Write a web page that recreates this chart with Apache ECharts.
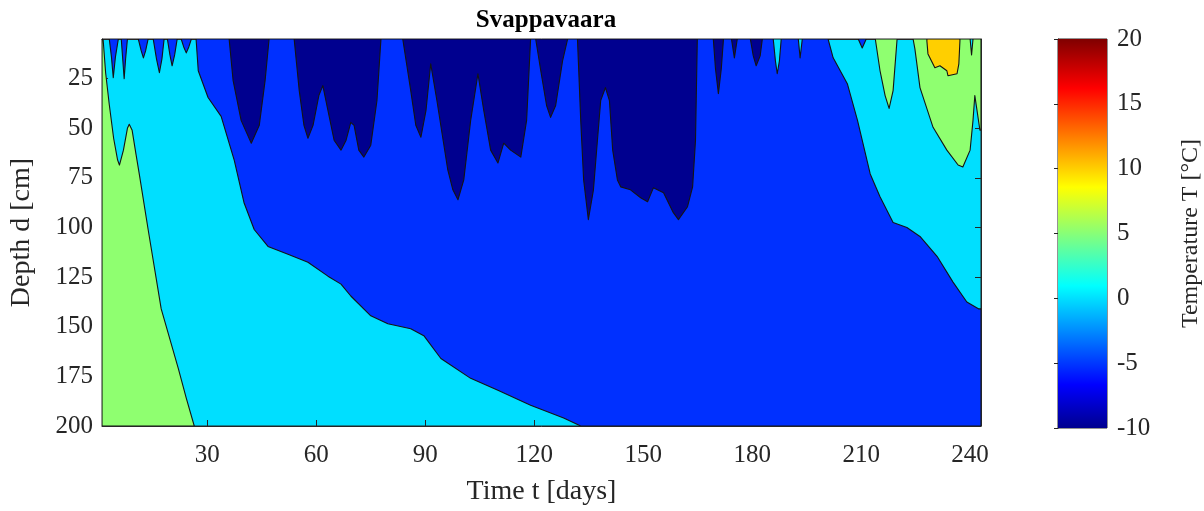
<!doctype html>
<html lang="en">
<head>
<meta charset="utf-8"/>
<title>Svappavaara</title>
<script src="https://cdn.jsdelivr.net/npm/echarts@6.0.0/dist/echarts.min.js"></script>
<style>
  html, body { margin: 0; padding: 0; background: #fff; }
  #chart { width: 1204px; height: 511px; }
</style>
</head>
<body>
<div id="chart"></div>
<script>
// contour bands: lower level of each band and its jet colour
const bandLevels = [-10, -5, 0, 5, 10, 15];
const bandColors = ['#00008F', '#0030FF', '#00DFFF', '#8FFF70', '#FFCF00', '#FF3000'];

const xTicks = [30, 60, 90, 120, 150, 180, 210, 240];
const yTicks = [25, 50, 75, 100, 125, 150, 175, 200];
const dayRange = [1, 243];
const depthRange = [5, 200];
const tempRange = [-10, 20];

// jet colormap stops for the colour bar
const jetStops = [[0, '#00008F'], [0.111, '#0000FF'], [0.365, '#00FFFF'],
                  [0.619, '#FFFF00'], [0.873, '#FF0000'], [1, '#800000']];

// contour regions, [day, depth cm]
const greenLeft = [[1.3,5],[2.0,22],[3.0,38],[4.2,55],[5.3,66],[5.8,68.5],[6.9,61],[8.0,50],
  [8.5,48],[9.3,51],[10.4,63.5],[11.3,73.5],[13.7,101],[17.3,141],[22.0,171],[24.2,186],
  [26.4,200],[1,200],[1,5]];
const blueMain = [[26.9,5],[27.5,21],[30.2,34.5],[33.8,44],[37.4,66],[40.1,87.5],[42.9,101],
  [46.7,109.5],[52.2,113.5],[57.7,117.5],[63.2,124.5],[66.8,128.5],[69.5,134.5],[75.0,144.5],
  [79.7,148.5],[86.0,151],[89.6,154.5],[94.3,166],[102.5,176],[110.0,182],[119.0,189.5],
  [128.1,196],[132.8,200],[243,200],[243,141],[242.4,141],[239.1,137.5],[235.3,127.5],
  [230.9,114.5],[226.2,104.5],[222.6,100],[218.8,97.5],[215.2,84.5],[212.5,73],[209.0,46],
  [206.2,27.5],[202.3,14.5],[200.9,5]];
const blueSpikesLeft = [
  [[3.0,5],[3.6,14],[4.1,24.5],[4.7,14],[5.5,5]],
  [[6.3,5],[6.7,15],[7.1,25],[7.5,15],[8.0,5]],
  [[11.0,5],[11.8,11],[12.4,14.5],[13.0,11],[13.7,5]],
  [[15.1,5],[16.0,15],[16.8,22],[17.5,15],[18.1,5]],
  [[19.0,5],[19.7,13],[20.3,18.5],[21.0,13],[21.7,5]],
  [[22.8,5],[23.5,9],[24.2,12],[24.9,9],[25.6,5]],
  [[209.2,5],[210.3,9.5],[211.4,5]]
];
const navySpikes = [
  [[36.0,5],[37.1,26],[39.3,46],[42.1,57.5],[44.3,48.5],[45.9,26],[47.0,5]],
  [[53.9,5],[55.3,31],[56.6,48.5],[57.7,55],[59.1,48.5],[60.7,33.5],[61.8,28.5],[63.2,41],
   [64.9,56],[66.8,61],[68.2,56],[69.5,47],[70.4,48.5],[71.7,61],[73.1,64.5],[75.0,58.5],
   [76.7,36],[77.8,5]],
  [[83.8,5],[86.0,31],[87.4,48.5],[88.8,54.5],[90.2,41],[91.5,17.5],[93.2,36],[96.2,71],
   [97.6,81],[99.0,86],[100.6,76],[102.5,46],[104.5,22.5],[106.1,41],[108.0,61],[110.0,67.5],
   [111.6,57.5],[113.5,61],[116.3,64.5],[117.9,46],[119.0,5]],
  [[120.4,5],[121.8,21],[123.4,38.5],[124.5,44.5],[125.9,38.5],[127.8,16],[129.2,5]],
  [[131.9,5],[132.8,46],[133.6,76],[134.9,96],[136.3,81],[137.4,56],[138.3,36],[139.6,29.5],
   [140.7,36],[141.6,61],[142.9,76],[143.8,79.5],[146.5,81],[149.3,85],[151.2,87],[152.8,80],
   [155.6,82.5],[158.3,92.5],[159.7,96],[162.2,89.5],[163.6,79.5],[164.4,56],[164.9,5]],
  [[169.3,5],[169.9,20],[170.7,32.5],[171.5,20],[172.1,5]],
  [[174.3,5],[175.1,14.5],[175.9,5]],
  [[179.5,5],[180.3,13.5],[181.1,18.5],[182.2,13.5],[182.8,5]]
];
const cyanSpikes = [
  [[185.8,5],[186.4,16],[186.9,22.5],[187.5,16],[188.0,5]],
  [[192.7,5],[193.2,14.5],[193.8,5]]
];
const greenSpike = [[213.9,5],[215.2,21],[216.6,33.5],[217.7,40],[218.8,31],[219.9,5]];
const greenRight = [[224.3,5],[224.8,10],[226.2,29.5],[229.8,49.5],[233.6,61],[236.7,68.5],
  [238.0,69.5],[240.0,61],[240.8,46],[241.3,33.5],[241.9,41],[242.7,51],[243,51],[243,5]];
const cyanSpikeRight = [[240.0,5],[240.4,13],[240.8,5]];
const orangeTop = [[228.1,5],[228.1,6],[228.4,12.5],[230.3,19.5],[231.7,18.5],[233.6,21],
  [233.9,23.5],[236.4,22.5],[236.9,17.5],[237.2,6],[237.2,5]];

// drawing order, lowest band first
const layers = [
  [5, greenLeft],
  [-5, blueMain],
  ...blueSpikesLeft.map(p => [-5, p]),
  ...navySpikes.map(p => [-10, p]),
  ...cyanSpikes.map(p => [0, p]),
  [5, greenSpike],
  [5, greenRight],
  [0, cyanSpikeRight],
  [10, orangeTop]
];

const FONT = 'Liberation Serif';
const INK = '#262626';

function regionSeries(level, pts) {
  const color = bandColors[bandLevels.indexOf(level)];
  return {
    type: 'custom',
    xAxisIndex: 0, yAxisIndex: 0,
    clip: true, silent: true,
    data: [pts[0]],
    renderItem: (params, api) => ({
      type: 'polygon',
      shape: { points: pts.map(p => api.coord(p)) },
      style: { fill: color, stroke: '#141414', lineWidth: 1.1, lineJoin: 'round' }
    })
  };
}

const colorbarSeries = {
  type: 'custom',
  xAxisIndex: 2, yAxisIndex: 2,
  silent: true,
  data: [[0, tempRange[0]]],
  renderItem: (params, api) => {
    const a = api.coord([0, tempRange[1]]);
    const b = api.coord([1, tempRange[0]]);
    return {
      type: 'rect',
      shape: { x: a[0], y: a[1], width: b[0] - a[0], height: b[1] - a[1] },
      style: {
        fill: new echarts.graphic.LinearGradient(0, 1, 0, 0,
          jetStops.map(s => ({ offset: s[0], color: s[1] })))
      }
    };
  }
};

const tickLabel = { fontFamily: FONT, fontSize: 25, color: INK };
const nameStyle = { fontFamily: FONT, fontSize: 28, color: INK };

const chart = echarts.init(document.getElementById('chart'), null, { renderer: 'canvas' });
chart.setOption({
  animation: false,
  title: {
    text: 'Svappavaara',
    left: 541, top: 3, textAlign: 'center',
    textStyle: { fontFamily: FONT, fontSize: 25, fontWeight: 'bold', color: '#000' }
  },
  grid: [
    { left: 102, top: 39, width: 879, height: 389, show: true,
      backgroundColor: bandColors[2], borderColor: INK, borderWidth: 1 },
    { left: 1058, top: 39, width: 50, height: 389, show: true,
      borderColor: INK, borderWidth: 1 }
  ],
  xAxis: [
    { type: 'value', gridIndex: 0, min: dayRange[0], max: dayRange[1], position: 'bottom',
      name: 'Time t [days]', nameLocation: 'middle', nameGap: 52, nameTextStyle: nameStyle,
      axisLine: { show: true, lineStyle: { color: INK } },
      axisTick: { show: true, inside: true, length: 6, customValues: xTicks, lineStyle: { color: INK } },
      axisLabel: { customValues: xTicks, margin: 17, ...tickLabel },
      splitLine: { show: false } },
    { type: 'value', gridIndex: 0, min: dayRange[0], max: dayRange[1], position: 'top',
      axisLine: { show: true, lineStyle: { color: INK } },
      axisTick: { show: true, inside: true, length: 6, customValues: xTicks, lineStyle: { color: INK } },
      axisLabel: { show: false }, splitLine: { show: false } },
    { type: 'value', gridIndex: 1, min: 0, max: 1, show: false }
  ],
  yAxis: [
    { type: 'value', gridIndex: 0, min: depthRange[0], max: depthRange[1], inverse: true,
      position: 'left',
      name: 'Depth d [cm]', nameLocation: 'middle', nameGap: 66, nameRotate: 90,
      nameTextStyle: nameStyle,
      axisLine: { show: true, lineStyle: { color: INK } },
      axisTick: { show: true, inside: true, length: 6, customValues: yTicks, lineStyle: { color: INK } },
      axisLabel: { customValues: yTicks, margin: 9, ...tickLabel },
      splitLine: { show: false } },
    { type: 'value', gridIndex: 0, min: depthRange[0], max: depthRange[1], inverse: true,
      position: 'right',
      axisLine: { show: true, lineStyle: { color: INK } },
      axisTick: { show: true, inside: true, length: 6, customValues: yTicks, lineStyle: { color: INK } },
      axisLabel: { show: false }, splitLine: { show: false } },
    { type: 'value', gridIndex: 1, min: tempRange[0], max: tempRange[1], interval: 5,
      position: 'right',
      name: 'Temperature T [°C]', nameLocation: 'middle', nameGap: 72, nameRotate: 90,
      nameTextStyle: { ...nameStyle, fontSize: 24 },
      axisLine: { show: true, lineStyle: { color: INK } },
      axisTick: { show: true, inside: true, length: 4, lineStyle: { color: INK } },
      axisLabel: { margin: 10, ...tickLabel },
      splitLine: { show: false } }
  ],
  series: [...layers.map(l => regionSeries(l[0], l[1])), colorbarSeries]
});
</script>
</body>
</html>
